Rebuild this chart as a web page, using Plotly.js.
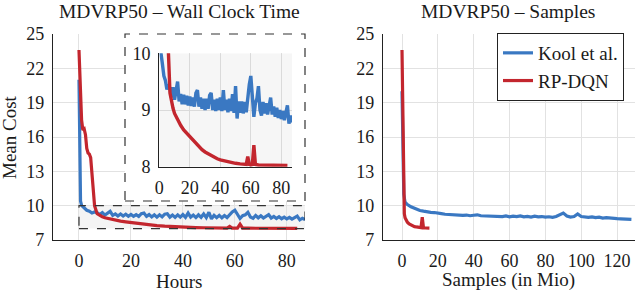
<!DOCTYPE html>
<html>
<head>
<meta charset="utf-8">
<script src="https://cdn.plot.ly/plotly-3.0.1.min.js"></script>
<style>html,body{margin:0;padding:0;background:#fff;}#chart{width:640px;height:292px;}</style>
</head>
<body>
<div id="chart"></div>
<script>
// ---- Data ----
const seriesNames = ['Kool et al.', 'RP-DQN'];

// Wall clock time (hours) – Kool et al.
const kool_hours = [0, 0.3, 0.6, 1, 2, 3, 4, 5, 6,
  7, 8, 9, 10, 11, 12, 13, 14, 15, 16, 17, 18, 19, 20, 21, 22, 23, 24, 25, 26,
  27, 28, 29, 30, 31, 32, 33, 34, 35, 36, 37, 38, 39, 40, 41, 42, 43, 44, 45, 46,
  47, 48, 49, 50, 51, 52, 53, 54, 55, 56, 57, 58, 59, 60, 61, 62, 63, 64, 65, 66,
  67, 68, 69, 70, 71, 72, 73, 74, 75, 76, 77, 78, 79, 80, 81, 82, 83, 84, 85, 86, 87];
const kool_cost_time = [21.0, 15.0, 10.4, 10.02, 9.82, 9.6, 9.52, 9.36, 9.45,
  9.38, 9.22, 9.4, 9.18, 9.35, 9.5, 9.15, 9.28, 9.1, 9.27, 9.1, 9.25, 9.08, 9.24, 9.07, 9.22, 9.06, 9.3, 9.35, 9.06,
  9.22, 9.02, 9.2, 9.0, 9.2, 9.02, 9.26, 9.3, 9.0, 9.18, 8.98, 9.2, 9.0, 9.22, 8.98, 9.35, 9.0, 9.18, 8.96, 9.2,
  8.98, 9.28, 8.95, 9.42, 8.85, 9.15, 8.95, 9.15, 8.94, 9.14, 8.96, 9.25, 9.45, 9.6, 9.25, 8.88, 9.12, 9.2, 9.42, 9.0,
  8.9, 9.14, 8.94, 9.12, 8.92, 9.1, 9.22, 8.92, 9.06, 8.88, 9.04, 8.86, 9.0, 8.84, 8.98, 8.82, 8.96, 9.08, 8.76, 8.9, 8.78];

// Wall clock time (hours) – RP-DQN
const rp_hours = [0, 0.5, 1, 1.5, 2, 2.5, 3, 3.5, 4, 4.5, 5, 5.5, 6, 7, 8, 9, 10, 12, 14, 16,
  18, 20, 22, 25, 28, 30, 33, 35, 38, 40, 43, 45, 48, 50, 53, 55, 57, 58, 59, 60,
  61, 62, 63, 65, 68, 70, 73, 75, 78, 80, 82, 84];
const rp_cost_time = [23.6, 20.5, 17.5, 16.6, 16.7, 16.2, 15.0, 14.6, 14.5, 14.2, 12.5, 11.0, 10.0, 9.3, 9.15, 9.03, 8.94, 8.82, 8.73, 8.65,
  8.59, 8.53, 8.47, 8.38, 8.3, 8.26, 8.21, 8.18, 8.14, 8.12, 8.1, 8.09, 8.07, 8.06, 8.05, 8.04, 8.04, 8.18, 8.04, 8.03,
  8.04, 8.38, 8.04, 8.03, 8.03, 8.02, 8.03, 8.02, 8.02, 8.02, 8.02, 8.02];

// Samples (in Mio) – Kool et al.
const kool_samples = [0, 0.5, 1, 1.7, 3, 5, 8, 10, 12, 14, 16, 18, 20, 22, 24, 26, 28, 30, 32, 34, 36, 38,
  40, 42, 44, 46, 48, 50, 52, 54, 56, 58, 60, 62, 64, 66, 68, 70, 72, 74, 76, 78, 80, 82, 84, 86,
  88, 90, 92, 94, 96, 98, 100, 102, 104, 106, 108, 110, 112, 114, 116, 118, 120, 122, 124, 126, 128];
const kool_cost_samples = [20.0, 14.0, 11.0, 10.3, 10.1, 9.9, 9.7, 9.58, 9.52, 9.45, 9.42, 9.4, 9.32, 9.3, 9.25, 9.22, 9.2, 9.18, 9.2, 9.15, 9.18, 9.12,
  9.16, 9.2, 9.12, 9.1, 9.08, 9.12, 9.05, 9.08, 9.04, 9.1, 9.02, 9.08, 9.05, 9.1, 9.02, 9.06, 9.0, 9.08, 9.02, 9.05, 9.0, 9.03, 8.98, 9.05,
  9.2, 9.35, 9.1, 9.0, 9.05, 9.28, 9.05, 9.0, 8.98, 9.02, 8.95, 9.0, 8.92, 8.95, 8.9, 8.92, 8.86, 8.85, 8.82, 8.85, 8.8];

// Samples (in Mio) – RP-DQN
const rp_samples = [0, 0.2, 0.4, 0.6, 0.8, 1.0, 1.3, 1.7, 2.2, 3, 4, 5, 6, 7, 8, 9, 10, 10.6, 11.3, 11.6, 12, 13, 14, 15.3];
const rp_cost_samples = [23.6, 21, 18, 15, 12, 9.8, 9.3, 8.95, 8.75, 8.55, 8.4, 8.3, 8.22, 8.17, 8.14, 8.12, 8.1, 8.08, 9.0, 8.08, 8.06, 8.05, 8.04, 8.04];

// Tick labels
const yTicks = [7, 10, 13, 16, 19, 22, 25];
const xTicksHours = [0, 20, 40, 60, 80];
const xTicksSamples = [0, 20, 40, 60, 80, 100, 120];
const insetYTicks = [8, 9, 10];

// ---- Styling ----
const BLUE = '#3a78c2';
const RED = '#c3262e';
const FONT = 'Liberation Serif';
const TXT = '#1a1a1a';
const GRID = '#e2e2e2';
const W = 640, H = 292;
const px = v => v / W;
const py = v => 1 - v / H;

function axis(extra) {
  return Object.assign({
    showline: true, linecolor: '#222', linewidth: 1.2, mirror: false,
    showgrid: true, gridcolor: GRID, gridwidth: 1, zeroline: false,
    ticks: 'outside', ticklen: 4, tickcolor: 'rgba(0,0,0,0)',
    tickfont: {family: FONT, size: 18, color: TXT},
    fixedrange: true
  }, extra);
}

const traces = [
  {x: kool_hours, y: kool_cost_time, xaxis: 'x', yaxis: 'y', mode: 'lines', name: seriesNames[0],
   line: {color: BLUE, width: 3.2}},
  {x: rp_hours, y: rp_cost_time, xaxis: 'x', yaxis: 'y', mode: 'lines', name: seriesNames[1],
   line: {color: RED, width: 3.2}},
  {x: kool_samples, y: kool_cost_samples, xaxis: 'x2', yaxis: 'y2', mode: 'lines', name: seriesNames[0],
   line: {color: BLUE, width: 3.2}, showlegend: false},
  {x: rp_samples, y: rp_cost_samples, xaxis: 'x2', yaxis: 'y2', mode: 'lines', name: seriesNames[1],
   line: {color: RED, width: 3.2}, showlegend: false},
  // white cover subplot behind the inset frame
  {x: [], y: [], xaxis: 'x3', yaxis: 'y3', mode: 'lines', showlegend: false, hoverinfo: 'skip'},
  // inset light background tint (semi-transparent so grid shows through)
  {x: [0, 87, 87, 0, 0], y: [8, 8, 10, 10, 8], xaxis: 'x4', yaxis: 'y4', mode: 'lines', fill: 'toself',
   fillcolor: 'rgba(0,0,0,0.035)', line: {width: 0}, showlegend: false, hoverinfo: 'skip'},
  // inset
  {x: kool_hours, y: kool_cost_time, xaxis: 'x4', yaxis: 'y4', mode: 'lines', name: seriesNames[0],
   line: {color: BLUE, width: 3.4}, showlegend: false, cliponaxis: true},
  {x: rp_hours, y: rp_cost_time, xaxis: 'x4', yaxis: 'y4', mode: 'lines', name: seriesNames[1],
   line: {color: RED, width: 3.4}, showlegend: false, cliponaxis: true}
];

const layout = {
  width: W, height: H,
  margin: {l: 0, r: 0, t: 0, b: 0},
  paper_bgcolor: 'white', plot_bgcolor: 'white',
  font: {family: FONT, color: TXT},
  showlegend: true,
  legend: {x: px(497), y: py(33), xanchor: 'left', yanchor: 'top',
    bgcolor: 'white', bordercolor: '#222', borderwidth: 1,
    font: {family: FONT, size: 19, color: TXT}, tracegroupgap: 0},
  xaxis: axis({domain: [px(53), px(305)], range: [-10, 87], tickvals: xTicksHours, anchor: 'y'}),
  yaxis: axis({domain: [py(240), py(34)], range: [7, 25], tickvals: yTicks, anchor: 'x'}),
  xaxis2: axis({domain: [px(383), px(635)], range: [-10.6, 130], tickvals: xTicksSamples, anchor: 'y2'}),
  yaxis2: axis({domain: [py(240), py(34)], range: [7, 25], tickvals: yTicks, anchor: 'x2'}),
  xaxis3: {domain: [px(125), px(305)], range: [0, 1], visible: false, anchor: 'y3', fixedrange: true},
  yaxis3: {domain: [py(201), py(34)], range: [0, 1], visible: false, anchor: 'x3', fixedrange: true},
  xaxis4: axis({domain: [px(159.3), px(292)], range: [0, 87], tickvals: xTicksHours, anchor: 'y4'}),
  yaxis4: axis({domain: [py(166.7), py(53.3)], range: [8, 10], tickvals: insetYTicks, anchor: 'x4'}),
  shapes: [
    // shaded zoom region in main plot
    {type: 'rect', xref: 'x', yref: 'y', x0: 0, x1: 87, y0: 8, y1: 10, layer: 'below',
     fillcolor: '#f4f4f4', line: {width: 0}},
    {type: 'rect', xref: 'x', yref: 'y', x0: 0, x1: 87, y0: 8, y1: 10, layer: 'above',
     fillcolor: 'rgba(0,0,0,0)', line: {color: '#333', width: 1.2, dash: 'dash'}},
    // inset frame
    {type: 'rect', xref: 'paper', yref: 'paper', x0: px(125), x1: px(305), y0: py(201), y1: py(34), layer: 'above',
     fillcolor: 'rgba(0,0,0,0)', line: {color: '#333', width: 1.2, dash: 'dash'}}
  ],
  annotations: [
    {text: 'MDVRP50 – Wall Clock Time', xref: 'paper', yref: 'paper', x: px(179), y: py(12), xanchor: 'center', yanchor: 'middle',
     showarrow: false, font: {family: FONT, size: 19.5, color: TXT}},
    {text: 'MDVRP50 – Samples', xref: 'paper', yref: 'paper', x: px(508), y: py(12), xanchor: 'center', yanchor: 'middle',
     showarrow: false, font: {family: FONT, size: 19.5, color: TXT}},
    {text: 'Mean Cost', xref: 'paper', yref: 'paper', x: px(9), y: py(137), xanchor: 'center', yanchor: 'middle', textangle: -90,
     showarrow: false, font: {family: FONT, size: 19, color: TXT}},
    {text: 'Hours', xref: 'paper', yref: 'paper', x: px(179), y: py(281), xanchor: 'center', yanchor: 'middle',
     showarrow: false, font: {family: FONT, size: 19, color: TXT}},
    {text: 'Samples (in Mio)', xref: 'paper', yref: 'paper', x: px(508), y: py(280), xanchor: 'center', yanchor: 'middle',
     showarrow: false, font: {family: FONT, size: 19, color: TXT}}
  ]
};

Plotly.newPlot('chart', traces, layout, {displayModeBar: false, staticPlot: true});
</script>
</body>
</html>
